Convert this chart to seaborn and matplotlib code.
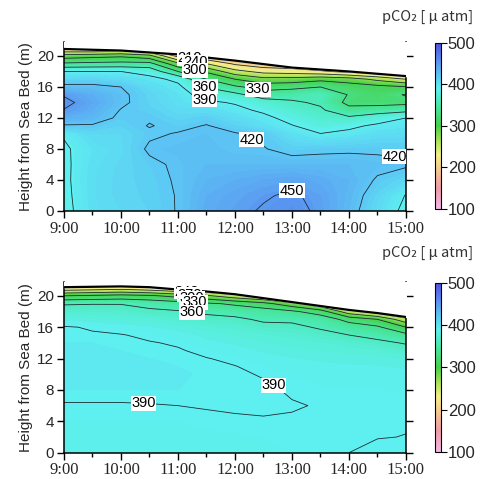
"""pCO2 sections: height above sea bed vs time, two panels."""

import numpy as np
import matplotlib
matplotlib.use("Agg")
import matplotlib.pyplot as plt
import seaborn as sns
from matplotlib.colors import LinearSegmentedColormap, Normalize
from matplotlib.cm import ScalarMappable

sns.set_theme(style="ticks")
plt.rcParams["font.family"] = ["Liberation Sans", "DejaVu Sans"]

# ---- data ----
TIMES = [9.0, 9.5, 10.0, 10.5, 11.0, 11.5, 12.0, 12.5, 13.0, 13.5, 14.0, 14.5, 15.0]
HOUR_TICKS = [9, 10, 11, 12, 13, 14, 15]
HOUR_LABELS = ["9:00", "10:00", "11:00", "12:00", "13:00", "14:00", "15:00"]
HEIGHTS = [0, 2, 4, 6, 8, 10, 11, 12, 13, 14, 15, 16, 17, 18, 19, 20, 21, 22]

TOP_SURFACE = [20.9, 20.8, 20.7, 20.45, 20.2, 19.8, 19.4, 18.95, 18.5, 18.25, 18.0, 17.7, 17.4]
BOTTOM_SURFACE = [21.1, 21.15, 21.2, 21.1, 20.8, 20.55, 20.2, 19.7, 19.2, 18.7, 18.2, 17.8, 17.3]

# one profile (bottom -> top, along HEIGHTS) per time step
TOP_PCO2 = [
    [384, 385, 386, 386, 387, 392, 418, 436, 449, 456, 448, 426, 408, 390, 335, 285, 200, 160],
    [402, 403, 403, 402, 400, 408, 418, 430, 436, 440, 436, 425, 410, 390, 338, 290, 195, 160],
    [408, 410, 410, 409, 406, 408, 412, 416, 419, 424, 424, 420, 405, 390, 340, 295, 205, 160],
    [412, 413, 414, 416, 423, 417, 421, 418, 414, 411, 410, 405, 398, 380, 340, 280, 190, 160],
    [421, 421, 422, 423, 425, 421, 415, 410, 405, 402, 400, 396, 384, 330, 278, 200, 170, 160],
    [438, 436, 432, 428, 426, 424, 421, 414, 404, 394, 380, 358, 330, 295, 240, 180, 165, 160],
    [445, 442, 436, 428, 422, 421, 412, 405, 396, 388, 368, 335, 300, 250, 205, 170, 160, 160],
    [452, 448, 440, 428, 421, 416, 402, 396, 386, 374, 345, 318, 280, 230, 190, 165, 160, 160],
    [457, 453, 443, 428, 414, 400, 391, 382, 373, 364, 350, 322, 282, 225, 185, 165, 160, 160],
    [446, 444, 438, 428, 416, 390, 380, 372, 364, 356, 360, 330, 292, 215, 170, 160, 160, 160],
    [428, 430, 432, 428, 417, 395, 385, 365, 340, 322, 328, 316, 285, 200, 165, 160, 160, 160],
    [405, 410, 418, 425, 417, 403, 394, 378, 345, 320, 318, 310, 262, 190, 165, 160, 160, 160],
    [384, 389, 408, 423, 416, 405, 398, 390, 352, 322, 332, 302, 240, 180, 165, 160, 160, 160],
]

BOTTOM_PCO2 = [
    [387, 387.5, 388, 389.5, 392, 393, 393, 393, 393, 392, 391, 391, 382, 371, 358, 300, 215, 170],
    [387, 387.5, 388, 389.5, 392, 393, 393, 393, 392.5, 392, 391, 389, 380, 371, 359, 305, 220, 170],
    [387, 387.5, 388, 389.5, 392, 393, 393, 392.5, 392, 391.5, 390.5, 386, 379, 370, 359, 310, 225, 170],
    [387, 387.5, 388, 389.7, 392, 393, 392.5, 392, 391.5, 390.6, 388, 384, 377, 365, 352, 305, 215, 170],
    [387, 387.5, 388, 390, 392, 392.5, 392, 391.5, 390.8, 389, 386, 381, 373, 362, 345, 290, 200, 170],
    [387, 387.5, 388.5, 390.5, 392, 391.5, 391, 390.3, 388, 385, 382, 377, 368, 355, 335, 275, 195, 170],
    [387, 387.5, 389, 391, 392, 391, 390.2, 388.5, 386, 383, 379, 374, 365, 350, 325, 250, 185, 170],
    [387.5, 388, 389.5, 391, 391.2, 389.5, 388, 386, 383, 380, 376, 367, 356, 345, 310, 230, 180, 170],
    [388, 388.5, 389.3, 390.5, 389.2, 387.5, 386, 384, 381, 378, 374, 366, 355, 335, 280, 210, 175, 170],
    [388.5, 389, 389.5, 389.6, 388.5, 386.5, 385, 383, 380, 376, 368, 357, 348, 315, 240, 190, 170, 170],
    [390, 389.5, 389.3, 389, 388, 386, 384.5, 382, 378, 372, 360, 345, 320, 250, 190, 170, 170, 170],
    [391.5, 389.8, 389.3, 389, 388, 385.5, 384, 381, 376, 366, 352, 335, 300, 220, 180, 170, 170, 170],
    [392, 390.1, 389.6, 389, 387.5, 385, 383, 379, 370, 358, 338, 300, 250, 190, 175, 170, 170, 170],
]

LINE_LEVELS = [210, 240, 270, 300, 330, 360, 390, 420, 450]
CBAR_TICKS = [100, 200, 300, 400, 500]

CMAP_VALUES = [100, 150, 200, 230, 260, 300, 350, 390, 420, 460, 500]
CMAP_COLORS = ["#f4b6e8", "#f29aa6", "#f6cf8c", "#f4ee88", "#b4e45a", "#48d048",
               "#48e8a8", "#5ef0f0", "#5cc8f4", "#5a8cf0", "#5050dc"]

# where the contour labels go (time, height)
TOP_LABEL_POS = [(11.2, 19.6), (11.3, 19.2), (11.3, 18.4), (11.47, 16.0),
                 (11.47, 14.4), (12.4, 15.5), (12.3, 9.3), (14.8, 7.0), (13.0, 3.0)]
BOTTOM_LABEL_POS = [(11.15, 20.5), (11.2, 20.2), (11.25, 19.9), (11.3, 19.4),
                    (11.25, 18.1), (10.4, 6.5), (12.7, 8.9)]

cmap = LinearSegmentedColormap.from_list(
    "pco2", [((v - 100) / 400, c) for v, c in zip(CMAP_VALUES, CMAP_COLORS)])
norm = Normalize(100, 500)

fig = plt.figure(figsize=(4.8, 4.79), dpi=100)
ax_top = fig.add_axes([0.1333, 0.5595, 0.7125, 0.3528])
ax_bot = fig.add_axes([0.1333, 0.0549, 0.7125, 0.3570])
cax_top = fig.add_axes([0.906, 0.5637, 0.0125, 0.347])
cax_bot = fig.add_axes([0.906, 0.0564, 0.0125, 0.3534])

T, H = np.meshgrid(TIMES, HEIGHTS)


def draw_panel(ax, cax, profiles, surface, label_pos, title_y):
    Z = np.array(profiles).T
    ax.contourf(T, H, Z, levels=np.arange(100, 501, 4), cmap=cmap, norm=norm,
                extend="both")
    cs = ax.contour(T, H, Z, levels=LINE_LEVELS, colors="#1e2c34", linewidths=0.6)
    ax.fill_between(TIMES, surface, 23, color="white", zorder=3)
    ax.plot(TIMES, surface, color="black", lw=1.6, zorder=4)
    texts = ax.clabel(cs, manual=label_pos, fmt="%d", fontsize=10.5,
                      inline=False, colors="black")
    for t in texts:
        t.set_rotation(0)
        t.set_bbox(dict(facecolor="white", edgecolor="none", pad=0.3))
        t.set_zorder(5)

    ax.set_xlim(9, 15)
    ax.set_ylim(0, 21.8)
    ax.set_xticks(HOUR_TICKS)
    ax.set_xticklabels(HOUR_LABELS, fontfamily="Liberation Serif", fontsize=12)
    ax.set_xticks(TIMES[1::2], minor=True)
    ax.set_yticks([0, 4, 8, 12, 16, 20])
    ax.tick_params(axis="y", left=True, right=True, direction="out", length=5,
                   width=1, labelsize=11, pad=2, color="black")
    ax.tick_params(axis="x", which="major", direction="out", length=5, width=1,
                   pad=2, color="black")
    ax.tick_params(axis="x", which="minor", direction="out", length=3, width=1,
                   color="black")
    sns.despine(ax=ax, top=True, right=False)
    for side in ("left", "right", "bottom"):
        ax.spines[side].set_color("black")
        ax.spines[side].set_linewidth(1.1)
    ax.set_ylabel("Height from Sea Bed (m)", fontsize=11, labelpad=3)
    ax.set_xlabel("")

    cb = fig.colorbar(ScalarMappable(norm=norm, cmap=cmap), cax=cax, ticks=CBAR_TICKS)
    cb.outline.set_linewidth(0.8)
    cb.outline.set_edgecolor("black")
    cax.tick_params(labelsize=12, length=4, width=0.8, direction="out", pad=1,
                    color="black")

    fig.text(0.985, title_y, "pCO\u2082 [ \u03bc atm]", ha="right", va="center",
             fontsize=10.5, color="#333333",
             family=["Noto Sans CJK JP", "DejaVu Sans"])


draw_panel(ax_top, cax_top, TOP_PCO2, TOP_SURFACE, TOP_LABEL_POS, 0.9645)
draw_panel(ax_bot, cax_bot, BOTTOM_PCO2, BOTTOM_SURFACE, BOTTOM_LABEL_POS, 0.472)

fig.savefig("out.png", dpi=100)
